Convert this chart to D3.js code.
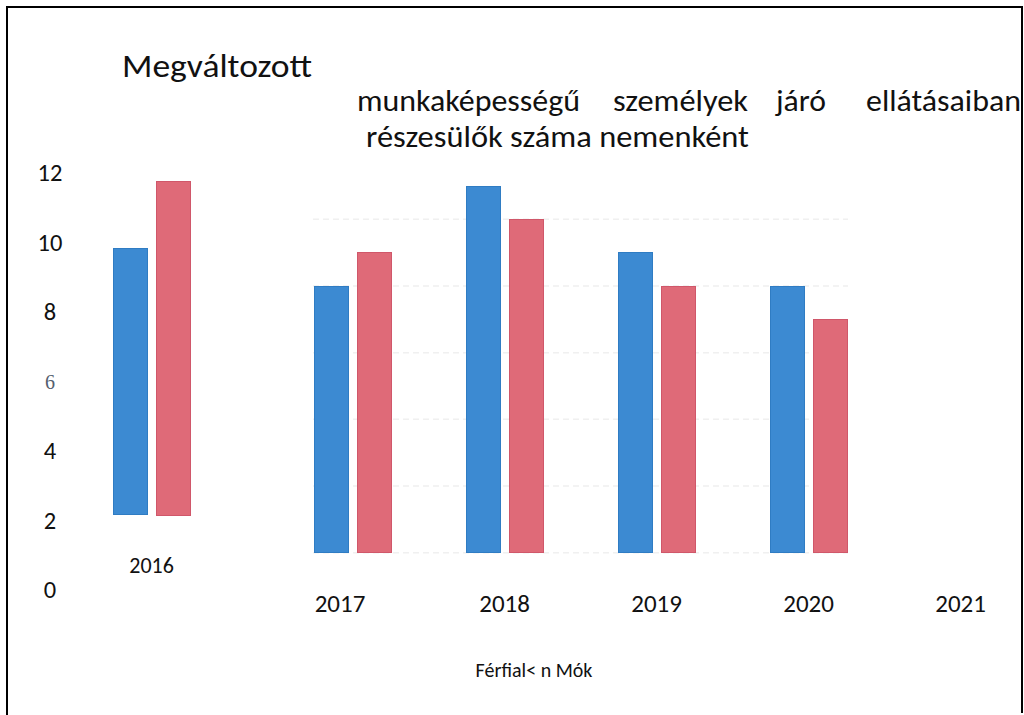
<!DOCTYPE html>
<html>
<head>
<meta charset="utf-8">
<script src="https://cdn.jsdelivr.net/npm/d3@7"></script>
<style>
  html, body { margin: 0; padding: 0; background: #fff; }
  svg { display: block; }
</style>
</head>
<body>
<svg id="chart" width="1024" height="715"></svg>
<script>
// ---------------- DATA ----------------
const years = ["2016", "2017", "2018", "2019", "2020", "2021"];
const barYears = ["2016", "2017", "2018", "2019", "2020"];
const series = ["Férfiak", "Nők"];
const ferfiValues = [8, 8, 11, 9, 8];
const noValues = [10, 9, 10, 8, 7];
const yTickValues = [0, 2, 4, 6, 8, 10, 12];
const gridValues = [0, 2, 4, 6, 8, 10];
const titleLine1 = "Megváltozott";
const titleLine2 = ["munkaképességű", "személyek", "járó", "ellátásaiban"];
const titleLine3 = "részesülők száma nemenként";
const legendLabel = "Férfial< n Mók";

// ---------------- LAYOUT / STYLE ----------------
const W = 1024, H = 715;
const SANS = "Carlito, Calibri, Lato, 'Open Sans', sans-serif";
const colors = { "Férfiak": "#3c8ad2", "Nők": "#df6a78" };
const strokes = { "Férfiak": "#2f7cc3", "Nők": "#d0576a" };
// the scanned picture is a collage: the 2016 panel is displaced
const panelShift = { "2016": { dx: -48.4, dy: -37.7 } };
const labelShift = { "2016": { dx: -49, y: 573 }, "2017": { dx: -12.6 } };
// title word boxes [left, width] (justified text in the scan)
const line1Box = [122, 190];
const line2Boxes = [[357, 223], [613, 135], [776, 50], [866, 155]];
const line3Box = [366, 383];

const svg = d3.select("#chart");

// frame (left, top, right edges)
svg.append("path")
  .attr("d", `M7,715 L7,7 L1022,7 L1022,713`)
  .attr("fill", "none")
  .attr("stroke", "#000")
  .attr("stroke-width", 2);

// scales
const x = d3.scalePoint().domain(years).range([200.6, 960.6]);
const xInner = d3.scaleBand().domain(series).range([-38.5, 38.5]).paddingInner(0.2093).paddingOuter(0);
const yBar = d3.scaleLinear().domain([0, 12]).range([552.7, 152.7]);
const yAxisScale = d3.scaleLinear().domain([0, 12]).range([590, 173]);

// faint dotted gridlines (main panel)
svg.append("g").selectAll("line").data(gridValues).join("line")
  .attr("x1", 313).attr("x2", 848)
  .attr("y1", d => yBar(d)).attr("y2", d => yBar(d))
  .attr("stroke", "#f0f0f0")
  .attr("stroke-width", 1.5)
  .attr("stroke-dasharray", "6,4");

// bars
const rows = barYears.map((yr, i) => ({ year: yr, values: [
  { key: "Férfiak", value: ferfiValues[i] },
  { key: "Nők", value: noValues[i] }
]}));

const groups = svg.append("g").selectAll("g").data(rows).join("g")
  .attr("transform", d => {
    const s = panelShift[d.year] || { dx: 0, dy: 0 };
    return `translate(${x(d.year) + s.dx},${s.dy})`;
  });

groups.selectAll("rect").data(d => d.values).join("rect")
  .attr("x", d => xInner(d.key))
  .attr("width", xInner.bandwidth())
  .attr("y", d => yBar(d.value))
  .attr("height", d => yBar(0) - yBar(d.value))
  .attr("fill", d => colors[d.key])
  .attr("stroke", d => strokes[d.key])
  .attr("stroke-width", 1)
  .attr("shape-rendering", "crispEdges");

// y-axis tick labels
svg.append("g").selectAll("text").data(yTickValues).join("text")
  .attr("x", 50)
  .attr("y", d => yAxisScale(d))
  .attr("text-anchor", "middle")
  .attr("dominant-baseline", "central")
  .attr("font-family", d => d === 6 ? "'Liberation Serif', 'DejaVu Serif', serif" : SANS)
  .attr("font-size", d => d === 6 ? 20 : 24.5)
  .attr("fill", d => d === 6 ? "#55606e" : "#111")
  .text(d => d);

// x labels
svg.append("g").selectAll("text").data(years).join("text")
  .attr("x", d => x(d) + ((labelShift[d] && labelShift[d].dx) || 0))
  .attr("y", d => (labelShift[d] && labelShift[d].y) || 612)
  .attr("text-anchor", "middle")
  .attr("font-family", SANS)
  .attr("font-size", d => d === "2016" ? 22 : 25)
  .attr("fill", "#111")
  .text(d => d);

// title
const title = svg.append("g").attr("font-family", SANS).attr("fill", "#111").attr("font-size", 31);
title.append("text")
  .attr("x", line1Box[0]).attr("y", 77)
  .attr("font-size", 32)
  .attr("textLength", line1Box[1]).attr("lengthAdjust", "spacingAndGlyphs")
  .text(titleLine1);

title.append("g").selectAll("text").data(titleLine2).join("text")
  .attr("x", (d, i) => line2Boxes[i][0])
  .attr("y", 111)
  .attr("textLength", (d, i) => line2Boxes[i][1])
  .attr("lengthAdjust", "spacingAndGlyphs")
  .text(d => d);

title.append("text")
  .attr("x", line3Box[0]).attr("y", 147)
  .attr("textLength", line3Box[1]).attr("lengthAdjust", "spacingAndGlyphs")
  .text(titleLine3);

// legend (as printed)
svg.append("text")
  .attr("x", 534).attr("y", 677)
  .attr("text-anchor", "middle")
  .attr("font-family", SANS)
  .attr("font-size", 20)
  .attr("fill", "#111")
  .text(legendLabel);
</script>
</body>
</html>
